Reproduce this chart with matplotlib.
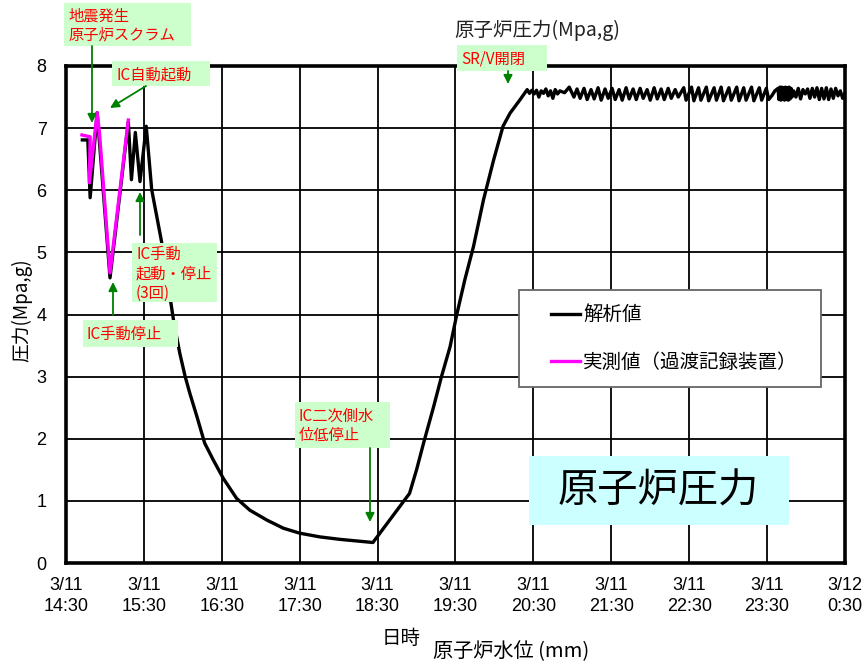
import matplotlib
matplotlib.use('Agg')
import matplotlib.pyplot as plt
from matplotlib.patches import Rectangle
from matplotlib.lines import Line2D
from matplotlib.legend_handler import HandlerBase

plt.rcParams['font.family'] = ['Noto Sans CJK JP', 'DejaVu Sans']

# ---------------- data (hours after 3/11 14:30, pressure MPa,g) ----------------
calc_main_t = [0.21, 0.28, 0.31, 0.40, 0.565, 0.80, 0.84, 0.89, 0.95, 1.03, 1.10, 1.23,
               1.38, 1.46, 1.53, 1.59, 1.68, 1.78, 1.89, 2.02, 2.19, 2.36, 2.58, 2.79,
               3.00, 3.26, 3.52, 3.94, 4.41, 4.50, 4.59, 4.72, 4.82, 4.93, 5.02, 5.12,
               5.23, 5.36, 5.49, 5.61, 5.70, 5.83]
calc_main_v = [6.81, 6.81, 5.88, 7.25, 4.59, 7.10, 6.17, 6.93, 6.14, 7.03, 6.01, 5.15,
               3.91, 3.38, 3.00, 2.73, 2.36, 1.93, 1.66, 1.36, 1.04, 0.85, 0.69, 0.56,
               0.48, 0.42, 0.38, 0.33, 1.12, 1.50, 1.93, 2.52, 3.00, 3.48, 4.02, 4.56,
               5.09, 5.85, 6.49, 7.03, 7.24, 7.46]

plateau_a_t = [5.92, 5.95, 5.98, 6.01, 6.04, 6.07, 6.10, 6.13, 6.16, 6.19, 6.22, 6.25,
               6.28, 6.31, 6.34, 6.40, 6.46, 6.52]
plateau_a_v = [7.62, 7.56, 7.61, 7.55, 7.61, 7.50, 7.60, 7.56, 7.63, 7.52, 7.60, 7.48,
               7.62, 7.55, 7.60, 7.57, 7.66, 7.50]

plateau_b_t = [6.56, 6.60, 6.65, 6.69, 6.74, 6.78, 6.83, 6.87, 6.92, 6.96, 7.01, 7.05,
               7.10, 7.14, 7.19, 7.23, 7.28, 7.32, 7.37, 7.41, 7.46, 7.50, 7.55, 7.59,
               7.64, 7.68, 7.73, 7.77, 7.82, 7.86]
plateau_b_v = [7.63, 7.48, 7.64, 7.46, 7.62, 7.47, 7.65, 7.45, 7.63, 7.48, 7.64, 7.46,
               7.62, 7.45, 7.65, 7.47, 7.63, 7.46, 7.64, 7.48, 7.62, 7.45, 7.65, 7.47,
               7.63, 7.46, 7.64, 7.48, 7.62, 7.50]

plateau_c_t = [7.93, 7.96, 8.03, 8.06, 8.12, 8.15, 8.22, 8.25, 8.32, 8.35, 8.41, 8.44,
               8.51, 8.54, 8.61, 8.64, 8.70, 8.73, 8.80, 8.83, 8.90, 8.93, 8.99, 9.02]
plateau_c_v = [7.65, 7.45, 7.66, 7.44, 7.65, 7.45, 7.66, 7.44, 7.65, 7.45, 7.66, 7.44,
               7.65, 7.45, 7.66, 7.44, 7.65, 7.45, 7.66, 7.44, 7.65, 7.45, 7.64, 7.46]

plateau_d_t = [9.06, 9.10, 9.14, 9.152, 9.164, 9.176, 9.188, 9.20, 9.212, 9.224, 9.236,
               9.248, 9.26, 9.272, 9.284, 9.296, 9.308, 9.32]
plateau_d_v = [7.52, 7.60, 7.64, 7.46, 7.66, 7.45, 7.66, 7.46, 7.65, 7.45, 7.66, 7.46,
               7.65, 7.45, 7.66, 7.47, 7.64, 7.50]

plateau_e_t = [9.34, 9.37, 9.40, 9.43, 9.46, 9.49, 9.52, 9.55, 9.58, 9.61, 9.64, 9.67,
               9.70, 9.73, 9.76, 9.79, 9.82, 9.85, 9.88, 9.91, 9.94, 9.97, 10.0]
plateau_e_v = [7.60, 7.50, 7.64, 7.47, 7.62, 7.55, 7.63, 7.48, 7.64, 7.50, 7.65, 7.46,
               7.64, 7.47, 7.65, 7.46, 7.63, 7.48, 7.64, 7.52, 7.60, 7.48, 7.56]

meas_t = [0.205, 0.31, 0.30, 0.40, 0.43, 0.565, 0.80]
meas_v = [6.89, 6.86, 6.12, 7.25, 6.92, 4.67, 7.13]

xtick_pos = [0, 1, 2, 3, 4, 5, 6, 7, 8, 9, 10]
xtick_labels = ['3/11\n14:30', '3/11\n15:30', '3/11\n16:30', '3/11\n17:30', '3/11\n18:30',
                '3/11\n19:30', '3/11\n20:30', '3/11\n21:30', '3/11\n22:30', '3/11\n23:30',
                '3/12\n0:30']
ytick_pos = [0, 1, 2, 3, 4, 5, 6, 7, 8]

calc_t = calc_main_t + plateau_a_t + plateau_b_t + plateau_c_t + plateau_d_t + plateau_e_t
calc_v = calc_main_v + plateau_a_v + plateau_b_v + plateau_c_v + plateau_d_v + plateau_e_v

# ---------------- figure ----------------
W, H = 867, 665
fig = plt.figure(figsize=(W / 100, H / 100), dpi=100)
fig.patch.set_facecolor('white')
ax = fig.add_axes([66 / W, (H - 563) / H, (845 - 66) / W, (563 - 66) / H])
ax.set_xlim(0, 10)
ax.set_ylim(0, 8)
ax.set_xticks(xtick_pos)
ax.set_xticklabels(xtick_labels, family=['Liberation Sans Narrow', 'Liberation Sans', 'DejaVu Sans'],
                   fontsize=13, linespacing=1.35)
ax.set_yticks(ytick_pos)
ax.set_yticklabels([str(v) for v in ytick_pos], family=['Liberation Sans', 'DejaVu Sans'], fontsize=13)
ax.tick_params(axis='x', length=0, pad=10)
ax.tick_params(axis='y', length=0, pad=14)
ax.grid(True, color='black', lw=1.3)
ax.set_axisbelow(True)
for s in ax.spines.values():
    s.set_linewidth(2.6)

l1, = ax.plot(calc_t, calc_v, color='black', lw=2.4, label='解析値', zorder=3)
l2, = ax.plot(meas_t, meas_v, color='#ff00ff', lw=2.4, label='実測値（過渡記録装置）', zorder=4)


class OffsetLineHandler(HandlerBase):
    """Legend line drawn at the right end of the handle box (leaves left indent)."""
    seg = 21.0  # points

    def create_artists(self, legend, orig_handle, xdescent, ydescent, width, height,
                       fontsize, trans):
        y = height / 2 - ydescent
        ln = Line2D([width - self.seg - xdescent, width - xdescent], [y, y],
                    color=orig_handle.get_color(), lw=orig_handle.get_linewidth())
        ln.set_transform(trans)
        return [ln]


leg = ax.legend(handles=[l1, l2], loc='upper left',
                bbox_to_anchor=(519 / W, (H - 386) / H, 302 / W, 96 / H),
                bbox_transform=fig.transFigure, mode='expand', borderaxespad=0,
                fontsize=14, frameon=True, fancybox=False, framealpha=1,
                edgecolor='#666666', handlelength=2.41, handletextpad=0.15,
                labelspacing=1.37, borderpad=0.74,
                handler_map={Line2D: OffsetLineHandler()})
leg.get_frame().set_linewidth(1.3)
leg.set_zorder(6)

# ---------------- overlay annotations (pixel coordinates) ----------------
ov = fig.add_axes([0, 0, 1, 1])
ov.set_xlim(0, W)
ov.set_ylim(H, 0)
ov.axis('off')
ov.set_zorder(7)

green_bg = '#ccffcc'
boxes = [
    ((64, 3, 127, 43), '地震発生\n原子炉スクラム'),
    ((112, 61, 98, 25), 'IC自動起動'),
    ((132, 243, 85, 59), 'IC手動\n起動・停止\n(3回)'),
    ((83, 320, 95, 27), 'IC手動停止'),
    ((295, 402, 95, 46), 'IC二次側水\n位低停止'),
    ((457, 45, 90, 26), 'SR/V開閉'),
]
for (x0, y0, w, h), txt in boxes:
    ov.add_patch(Rectangle((x0, y0), w, h, facecolor=green_bg, edgecolor='none'))
    ov.text(x0 + 4, y0 + h / 2 + 1, txt, color='#ff0000', fontsize=11, ha='left', va='center',
            linespacing=1.2)

arrows = [((92, 46), (92, 123)), ((146, 86), (110, 108)), ((140, 235), (140, 192)),
          ((113, 315), (113, 282)), ((370, 448), (370, 522)), ((508, 71), (508, 84))]
for (xs, ys), (xe, ye) in arrows:
    ov.annotate('', xy=(xe, ye), xytext=(xs, ys),
                arrowprops=dict(arrowstyle='-|>', color='#008000', lw=1.3,
                                mutation_scale=13, shrinkA=0, shrinkB=0))

ov.add_patch(Rectangle((529, 456), 260, 69, facecolor='#ccffff', edgecolor='none'))
ov.text(658, 491, '原子炉圧力', fontsize=29, color='black', ha='center', va='center')

ov.text(537, 30, '原子炉圧力(Mpa,g)', fontsize=14, color='#222222', ha='center', va='center')
ov.text(401, 639, '日時', fontsize=14, color='black', ha='center', va='center')
ov.text(511, 652, '原子炉水位 (mm)', fontsize=14.5, color='black', ha='center', va='center')
ov.text(22, 310, '圧力(Mpa,g)', fontsize=13.5, color='black', ha='center', va='center', rotation=90)

fig.savefig('out.png', dpi=100)
